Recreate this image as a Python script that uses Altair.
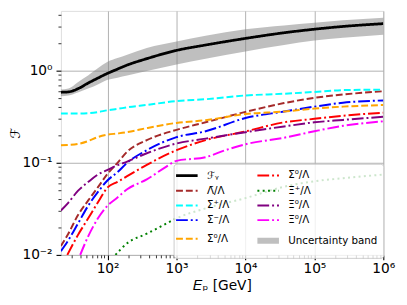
import altair as alt
import pandas as pd

# ---- data ----
E_MAIN = [21, 27, 37, 52, 72, 100, 139, 192, 370, 1000, 2640, 1e4, 3.63e4, 1e5, 2.6e5, 1e6]
F_gamma = [0.583, 0.588, 0.636, 0.733, 0.83, 0.936, 1.04, 1.15, 1.35, 1.66, 1.9, 2.24, 2.58, 2.82, 3.02, 3.24]
F_upper = [0.623, 0.639, 0.75, 0.885, 1.06, 1.25, 1.37, 1.49, 1.76, 2.07, 2.40, 2.82, 3.1, 3.32, 3.52, 3.75]
F_lower = [0.529, 0.538, 0.58, 0.639, 0.71, 0.796, 0.84, 0.885, 0.99, 1.17, 1.35, 1.62, 1.9, 2.12, 2.28, 2.46]
anti_lambda = [0.0125, 0.0171, 0.0269, 0.0388, 0.054, 0.076, 0.1, 0.132, 0.176, 0.228, 0.275, 0.357, 0.445, 0.507, 0.551, 0.598]
sigma_plus = [0.343, 0.343, 0.342, 0.345, 0.355, 0.372, 0.385, 0.40, 0.425, 0.468, 0.49, 0.538, 0.562, 0.588, 0.615, 0.623]
anti_sigma_minus = [0.011, 0.0145, 0.0218, 0.034, 0.048, 0.0646, 0.079, 0.1, 0.137, 0.19, 0.22, 0.306, 0.36, 0.407, 0.449, 0.475]
sigma0 = [0.155, 0.156, 0.16, 0.172, 0.19, 0.202, 0.208, 0.215, 0.238, 0.271, 0.29, 0.338, 0.36, 0.388, 0.407, 0.424]
xi0 = [0.0303, 0.037, 0.0495, 0.0617, 0.0745, 0.084, 0.094, 0.103, 0.127, 0.162, 0.183, 0.215, 0.248, 0.275, 0.292, 0.316]

E_ANTI_SIGMA0 = [26, 37, 52, 72, 100, 139, 192, 370, 1000, 2640, 1e4, 3.63e4, 1e5, 2.6e5, 1e6]
anti_sigma0 = [0.01, 0.0164, 0.0248, 0.037, 0.054, 0.062, 0.0715, 0.095, 0.137, 0.176, 0.219, 0.275, 0.30, 0.324, 0.35]

E_ANTI_XI0 = [40, 52, 72, 100, 139, 192, 370, 713, 1000, 2640, 5090, 1e4, 3.63e4, 1e5, 2.6e5, 1e6]
anti_xi0 = [0.01, 0.0158, 0.0248, 0.0343, 0.042, 0.0516, 0.066, 0.091, 0.105, 0.115, 0.137, 0.159, 0.187, 0.22, 0.252, 0.282]

E_XI_PLUS = [130, 192, 370, 713, 1000, 2500, 1e4, 3.63e4, 1e5, 2.6e5, 1e6]
xi_plus = [0.01, 0.0134, 0.017, 0.0219, 0.025, 0.0316, 0.0414, 0.055, 0.063, 0.068, 0.0745]

N_F = "ℱᵧ"
N_AL = "Λ̄/Λ"
N_SP = "Σ⁺/Λ"
N_ASM = "Σ̄⁻/Λ"
N_S0 = "Σ⁰/Λ"
N_AS0 = "Σ̄⁰/Λ"
N_XP = "Ξ⁺/Λ"
N_X0 = "Ξ⁰/Λ"
N_AX0 = "Ξ̄⁰/Λ"
N_UNC = "Uncertainty band"

# legend order (filled column by column, 2 columns)
ORDER = [N_F, N_AL, N_SP, N_ASM, N_S0, N_AS0, N_XP, N_X0, N_AX0, N_UNC]
COLORS = ["#000000", "#a52a2a", "#00ffff", "#0000ff", "#ffa500", "#ff0000", "#008000", "#800080", "#ff00ff",
          "rgba(128,128,128,0.5)"]
DD = [12, 3, 2, 3]
DA = [7, 3]
DASHES = [[1, 0], DA, DA, DD, DA, DD, [2, 3.4], DD, DD, [1, 0]]
WIDTHS = [2.8, 2, 2, 2, 2, 2, 2, 2, 2, 6]

series = [
    (N_F, E_MAIN, F_gamma),
    (N_AL, E_MAIN, anti_lambda),
    (N_SP, E_MAIN, sigma_plus),
    (N_ASM, E_MAIN, anti_sigma_minus),
    (N_S0, E_MAIN, sigma0),
    (N_AS0, E_ANTI_SIGMA0, anti_sigma0),
    (N_XP, E_XI_PLUS, xi_plus),
    (N_X0, E_MAIN, xi0),
    (N_AX0, E_ANTI_XI0, anti_xi0),
]
rows = []
for name, xs, ys in series:
    for x, y in zip(xs, ys):
        rows.append({"s": name, "E": x, "v": y})
lines_df = pd.DataFrame(rows)
band_df = pd.DataFrame({"E": E_MAIN, "lo": F_lower, "hi": F_upper})

# ---- ticks ----
XTICKS = [m * 10 ** k for k in range(1, 6) for m in range(1, 10) if 21 <= m * 10 ** k <= 1e6] + [1e6]
YTICKS = [round(m * 10 ** k, 6) for k in range(-2, 1) for m in range(1, 10) if m * 10 ** k <= 4.46]

MAJ = "abs(log(datum.value)/LN10 - round(log(datum.value)/LN10)) < 0.001"
EXP = "round(log(datum.value)/LN10)"
SUP = "['⁰','¹','²','³','⁴','⁵','⁶']"
x_label = f"{MAJ} ? '10' + {SUP}[{EXP}] : ''"
y_label = f"{MAJ} ? '10' + ({EXP} < 0 ? '⁻' : '') + {SUP}[abs({EXP})] : ''"

common_axis = dict(
    tickSize={"condition": {"test": MAJ, "value": 5}, "value": 3},
    tickWidth={"condition": {"test": MAJ, "value": 1.1}, "value": 0.8},
    gridOpacity={"condition": {"test": MAJ, "value": 1}, "value": 0},
    gridColor="#b0b0b0",
    gridWidth=1,
    tickColor="black",
    domain=False,
    labelFont="DejaVu Sans",
    labelFontSize=14,
    labelColor="black",
    labelOverlap=False,
    labelFlush=False,
    titleFont="DejaVu Sans",
    titleFontSize=14,
    titleFontWeight="normal",
    titleColor="black",
)

xaxis = alt.Axis(values=XTICKS, labelExpr=x_label, title="𝐸ₚ [GeV]", labelPadding=2, titlePadding=3, **common_axis)
yaxis = alt.Axis(values=YTICKS, labelExpr=y_label, title="ℱ", labelPadding=4,
                 titleX=-46, titleBaseline="middle", titleAlign="center", **common_axis)

xscale = alt.Scale(type="log", domain=[21, 1e6], nice=False)
yscale = alt.Scale(type="log", domain=[0.01, 4.456], nice=False)

legend = alt.Legend(
    title=None,
    orient="none",
    legendX=115,
    legendY=156,
    columns=2,
    columnPadding=16,
    rowPadding=3,
    padding=5,
    fillColor="rgba(255,255,255,0.8)",
    strokeColor="#cccccc",
    cornerRadius=3,
    symbolType="M-2,0H2",
    symbolSize=121,
    labelFont="DejaVu Sans",
    labelFontSize=10.5,
    labelColor="black",
    labelOffset=12,
    labelLimit=300,
)

band = alt.Chart(band_df).mark_area(color="#808080", opacity=0.5, interpolate="monotone").encode(
    x=alt.X("E:Q", scale=xscale, axis=xaxis),
    y=alt.Y("lo:Q", scale=yscale, axis=yaxis),
    y2="hi:Q",
)

lines = alt.Chart(lines_df).mark_line(interpolate="monotone", clip=True).encode(
    x=alt.X("E:Q", scale=xscale, axis=xaxis),
    y=alt.Y("v:Q", scale=yscale, axis=yaxis),
    color=alt.Color("s:N", scale=alt.Scale(domain=ORDER, range=COLORS), legend=legend),
    strokeDash=alt.StrokeDash("s:N", scale=alt.Scale(domain=ORDER, range=DASHES), legend=legend),
    strokeWidth=alt.StrokeWidth("s:N", scale=alt.Scale(type="ordinal", domain=ORDER, range=WIDTHS), legend=legend),
)

chart = alt.layer(band, lines).properties(
    width=329,
    height=249,
    padding={"left": 54, "top": 0, "right": 16, "bottom": 40},
    autosize="none",
).configure_view(stroke="black", strokeWidth=1.1).configure(background="white")

chart.save("out.html", embed_options={"renderer": "svg", "actions": False})
